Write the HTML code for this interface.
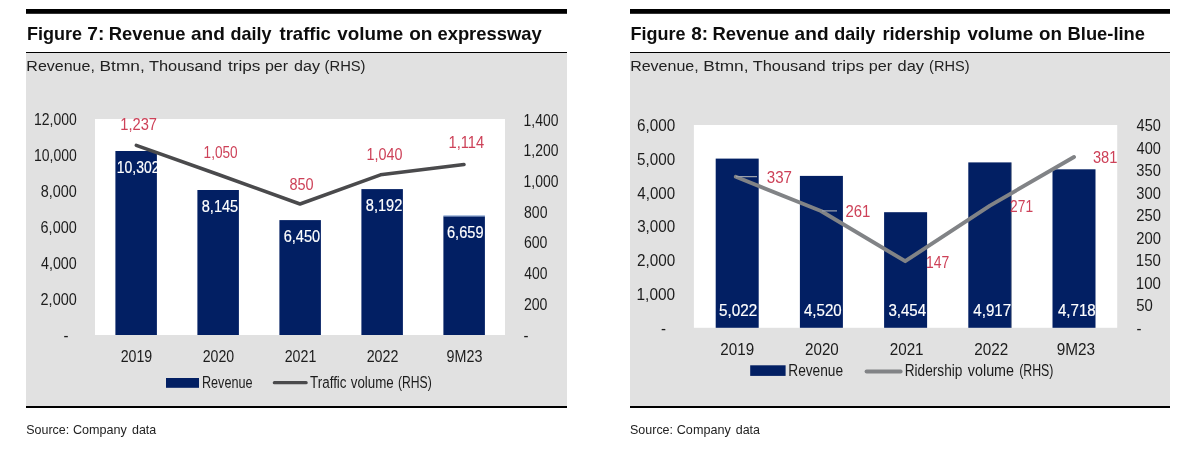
<!DOCTYPE html>
<html lang="en">
<head>
<meta charset="utf-8">
<title>Figure 7 and Figure 8</title>
<style>
html,body{margin:0;padding:0;background:#fff;}
body{width:1200px;height:452px;overflow:hidden;}
svg{display:block;font-family:"Liberation Sans", sans-serif;}
</style>
</head>
<body>
<svg width="1200" height="452" viewBox="0 0 1200 452">
<rect x="26" y="9" width="541" height="4.8" fill="#000"/>
<text y="39.9" font-size="18.4" fill="#0d0d0d" font-weight="bold"><tspan x="26.98" textLength="55.01" lengthAdjust="spacingAndGlyphs">Figure</tspan> <tspan x="87.38" textLength="17.07" lengthAdjust="spacingAndGlyphs">7:</tspan> <tspan x="108.76" textLength="76.66" lengthAdjust="spacingAndGlyphs">Revenue</tspan> <tspan x="190.93" textLength="33.92" lengthAdjust="spacingAndGlyphs">and</tspan> <tspan x="230.58" textLength="41.04" lengthAdjust="spacingAndGlyphs">daily</tspan> <tspan x="279.47" textLength="51.46" lengthAdjust="spacingAndGlyphs">traffic</tspan> <tspan x="337.21" textLength="65.93" lengthAdjust="spacingAndGlyphs">volume</tspan> <tspan x="409.24" textLength="23.23" lengthAdjust="spacingAndGlyphs">on</tspan> <tspan x="437.47" textLength="104.15" lengthAdjust="spacingAndGlyphs">expressway</tspan></text>
<rect x="26" y="52" width="541" height="354" fill="#e1e1e1"/>
<rect x="26" y="52" width="541" height="1" fill="#000"/>
<text y="71" font-size="15.5" fill="#222"><tspan x="26.38" textLength="68.47" lengthAdjust="spacingAndGlyphs">Revenue,</tspan> <tspan x="99.57" textLength="45.17" lengthAdjust="spacingAndGlyphs">Btmn,</tspan> <tspan x="148.93" textLength="72.9" lengthAdjust="spacingAndGlyphs">Thousand</tspan> <tspan x="227.94" textLength="32.45" lengthAdjust="spacingAndGlyphs">trips</tspan> <tspan x="264.96" textLength="23.08" lengthAdjust="spacingAndGlyphs">per</tspan> <tspan x="294.01" textLength="26.02" lengthAdjust="spacingAndGlyphs">day</tspan> <tspan x="324.58" textLength="40.94" lengthAdjust="spacingAndGlyphs">(RHS)</tspan></text>
<rect x="26" y="406" width="541" height="2" fill="#000"/>
<text y="434" font-size="13.2" fill="#222"><tspan x="26.24" textLength="43.0" lengthAdjust="spacingAndGlyphs">Source:</tspan> <tspan x="72.97" textLength="53.96" lengthAdjust="spacingAndGlyphs">Company</tspan> <tspan x="131.97" textLength="24.25" lengthAdjust="spacingAndGlyphs">data</tspan></text>
<rect x="95" y="119" width="410" height="216" fill="#fff"/>
<rect x="115.4" y="151" width="41.5" height="184" fill="#021f63"/>
<rect x="197.4" y="190" width="41.5" height="145" fill="#021f63"/>
<rect x="279.4" y="220.1" width="41.5" height="114.9" fill="#021f63"/>
<rect x="361.4" y="189.1" width="41.5" height="145.9" fill="#021f63"/>
<rect x="443.4" y="216.3" width="41.5" height="118.7" fill="#021f63"/>
<rect x="443.4" y="215.4" width="41.5" height="1" fill="#7d9ccc"/>
<text x="33.95" y="125" font-size="16.8" fill="#1c1c1c" textLength="42.79" lengthAdjust="spacingAndGlyphs">12,000</text>
<text x="33.95" y="161" font-size="16.8" fill="#1c1c1c" textLength="42.79" lengthAdjust="spacingAndGlyphs">10,000</text>
<text x="40.69" y="197" font-size="16.8" fill="#1c1c1c" textLength="36.05" lengthAdjust="spacingAndGlyphs">8,000</text>
<text x="40.58" y="233" font-size="16.8" fill="#1c1c1c" textLength="36.17" lengthAdjust="spacingAndGlyphs">6,000</text>
<text x="40.98" y="269" font-size="16.8" fill="#1c1c1c" textLength="35.76" lengthAdjust="spacingAndGlyphs">4,000</text>
<text x="40.58" y="305" font-size="16.8" fill="#1c1c1c" textLength="36.17" lengthAdjust="spacingAndGlyphs">2,000</text>
<text x="65.9" y="341" font-size="16.8" fill="#1c1c1c" text-anchor="middle" textLength="5" lengthAdjust="spacingAndGlyphs">-</text>
<text x="523.56" y="125.7" font-size="16.8" fill="#1c1c1c" textLength="34.87" lengthAdjust="spacingAndGlyphs">1,400</text>
<text x="523.56" y="155.86" font-size="16.8" fill="#1c1c1c" textLength="34.87" lengthAdjust="spacingAndGlyphs">1,200</text>
<text x="523.56" y="186.71" font-size="16.8" fill="#1c1c1c" textLength="34.87" lengthAdjust="spacingAndGlyphs">1,000</text>
<text x="524.0" y="217.57" font-size="16.8" fill="#1c1c1c" textLength="23.44" lengthAdjust="spacingAndGlyphs">800</text>
<text x="523.89" y="248.43" font-size="16.8" fill="#1c1c1c" textLength="23.55" lengthAdjust="spacingAndGlyphs">600</text>
<text x="524.29" y="279.29" font-size="16.8" fill="#1c1c1c" textLength="23.15" lengthAdjust="spacingAndGlyphs">400</text>
<text x="523.89" y="310.14" font-size="16.8" fill="#1c1c1c" textLength="23.55" lengthAdjust="spacingAndGlyphs">200</text>
<text x="523.6" y="341" font-size="16.8" fill="#1c1c1c" textLength="5" lengthAdjust="spacingAndGlyphs">-</text>
<text x="120.69" y="362" font-size="16.8" fill="#1c1c1c" textLength="31.58" lengthAdjust="spacingAndGlyphs">2019</text>
<text x="202.69" y="362" font-size="16.8" fill="#1c1c1c" textLength="31.47" lengthAdjust="spacingAndGlyphs">2020</text>
<text x="284.69" y="362" font-size="16.8" fill="#1c1c1c" textLength="31.62" lengthAdjust="spacingAndGlyphs">2021</text>
<text x="366.69" y="362" font-size="16.8" fill="#1c1c1c" textLength="31.65" lengthAdjust="spacingAndGlyphs">2022</text>
<text x="446.57" y="362" font-size="16.8" fill="#1c1c1c" textLength="35.81" lengthAdjust="spacingAndGlyphs">9M23</text>
<polyline points="136.3,145.3 218.3,174.5 300,204 380.5,174.8 464,164.5" fill="none" stroke="#4a4a4c" stroke-width="3.5" stroke-linejoin="round" stroke-linecap="round"/>
<text x="116.75" y="172.9" font-size="16.8" fill="#fff" textLength="42.76" lengthAdjust="spacingAndGlyphs" stroke="#fff" stroke-width="0.2">10,302</text>
<text x="201.78" y="211.9" font-size="16.8" fill="#fff" textLength="36.4" lengthAdjust="spacingAndGlyphs" stroke="#fff" stroke-width="0.2">8,145</text>
<text x="283.67" y="242.0" font-size="16.8" fill="#fff" textLength="36.48" lengthAdjust="spacingAndGlyphs" stroke="#fff" stroke-width="0.2">6,450</text>
<text x="365.78" y="211.0" font-size="16.8" fill="#fff" textLength="36.55" lengthAdjust="spacingAndGlyphs" stroke="#fff" stroke-width="0.2">8,192</text>
<text x="446.97" y="238.2" font-size="16.8" fill="#fff" textLength="36.59" lengthAdjust="spacingAndGlyphs" stroke="#fff" stroke-width="0.2">6,659</text>
<text x="120.3" y="130.2" font-size="16.8" fill="#cd4158" textLength="36.74" lengthAdjust="spacingAndGlyphs">1,237</text>
<text x="203.58" y="158" font-size="16.8" fill="#cd4158" textLength="34.03" lengthAdjust="spacingAndGlyphs">1,050</text>
<text x="289.48" y="189.7" font-size="16.8" fill="#cd4158" textLength="24.17" lengthAdjust="spacingAndGlyphs">850</text>
<text x="366.62" y="160.2" font-size="16.8" fill="#cd4158" textLength="35.92" lengthAdjust="spacingAndGlyphs">1,040</text>
<text x="448.5" y="148.2" font-size="16.8" fill="#cd4158" textLength="35.72" lengthAdjust="spacingAndGlyphs">1,114</text>
<rect x="166" y="378" width="33" height="9.8" fill="#021f63"/>
<text x="201.96" y="387.8" font-size="16.8" fill="#1c1c1c" textLength="50.59" lengthAdjust="spacingAndGlyphs">Revenue</text>
<path d="M274.4 382.7H306.1" stroke="#4a4a4c" stroke-width="3.3" stroke-linecap="round" fill="none"/>
<text y="387.8" font-size="16.8" fill="#1c1c1c"><tspan x="310.0" textLength="36.58" lengthAdjust="spacingAndGlyphs">Traffic</tspan> <tspan x="350.73" textLength="43.05" lengthAdjust="spacingAndGlyphs">volume</tspan> <tspan x="398.04" textLength="33.72" lengthAdjust="spacingAndGlyphs">(RHS)</tspan></text>
<rect x="630" y="9" width="540" height="4.8" fill="#000"/>
<text y="39.9" font-size="18.4" fill="#0d0d0d" font-weight="bold"><tspan x="630.58" textLength="55.01" lengthAdjust="spacingAndGlyphs">Figure</tspan> <tspan x="691.18" textLength="16.85" lengthAdjust="spacingAndGlyphs">8:</tspan> <tspan x="712.46" textLength="76.66" lengthAdjust="spacingAndGlyphs">Revenue</tspan> <tspan x="794.63" textLength="33.92" lengthAdjust="spacingAndGlyphs">and</tspan> <tspan x="834.28" textLength="41.04" lengthAdjust="spacingAndGlyphs">daily</tspan> <tspan x="882.41" textLength="78.14" lengthAdjust="spacingAndGlyphs">ridership</tspan> <tspan x="967.41" textLength="65.72" lengthAdjust="spacingAndGlyphs">volume</tspan> <tspan x="1039.05" textLength="22.91" lengthAdjust="spacingAndGlyphs">on</tspan> <tspan x="1067.56" textLength="77.44" lengthAdjust="spacingAndGlyphs">Blue-line</tspan></text>
<rect x="630" y="52" width="540" height="354" fill="#e1e1e1"/>
<rect x="630" y="52" width="540" height="1" fill="#000"/>
<text y="71" font-size="15.5" fill="#222"><tspan x="630.18" textLength="68.47" lengthAdjust="spacingAndGlyphs">Revenue,</tspan> <tspan x="703.37" textLength="45.17" lengthAdjust="spacingAndGlyphs">Btmn,</tspan> <tspan x="752.73" textLength="72.9" lengthAdjust="spacingAndGlyphs">Thousand</tspan> <tspan x="831.74" textLength="32.45" lengthAdjust="spacingAndGlyphs">trips</tspan> <tspan x="868.65" textLength="23.4" lengthAdjust="spacingAndGlyphs">per</tspan> <tspan x="897.6" textLength="26.44" lengthAdjust="spacingAndGlyphs">day</tspan> <tspan x="929.09" textLength="40.42" lengthAdjust="spacingAndGlyphs">(RHS)</tspan></text>
<rect x="630" y="406" width="540" height="2" fill="#000"/>
<text y="434" font-size="13.2" fill="#222"><tspan x="630.04" textLength="43.0" lengthAdjust="spacingAndGlyphs">Source:</tspan> <tspan x="676.77" textLength="53.96" lengthAdjust="spacingAndGlyphs">Company</tspan> <tspan x="735.77" textLength="24.25" lengthAdjust="spacingAndGlyphs">data</tspan></text>
<rect x="693.9" y="125" width="423.3" height="202.8" fill="#fff"/>
<rect x="715.7" y="158.6" width="43" height="169.2" fill="#021f63"/>
<rect x="799.9" y="175.9" width="43" height="151.9" fill="#021f63"/>
<rect x="884.1" y="212.2" width="43" height="115.6" fill="#021f63"/>
<rect x="968.3" y="162.4" width="43" height="165.4" fill="#021f63"/>
<rect x="1052.5" y="169.3" width="43" height="158.5" fill="#021f63"/>
<rect x="1010.9" y="162.6" width="0.9" height="165.2" fill="#77829a"/>
<text x="636.94" y="131.0" font-size="16.8" fill="#1c1c1c" textLength="38.24" lengthAdjust="spacingAndGlyphs">6,000</text>
<text x="637.09" y="164.8" font-size="16.8" fill="#1c1c1c" textLength="38.08" lengthAdjust="spacingAndGlyphs">5,000</text>
<text x="637.36" y="198.6" font-size="16.8" fill="#1c1c1c" textLength="37.81" lengthAdjust="spacingAndGlyphs">4,000</text>
<text x="637.13" y="232.4" font-size="16.8" fill="#1c1c1c" textLength="38.04" lengthAdjust="spacingAndGlyphs">3,000</text>
<text x="636.94" y="266.2" font-size="16.8" fill="#1c1c1c" textLength="38.24" lengthAdjust="spacingAndGlyphs">2,000</text>
<text x="636.54" y="300.0" font-size="16.8" fill="#1c1c1c" textLength="38.64" lengthAdjust="spacingAndGlyphs">1,000</text>
<text x="663.5" y="333.8" font-size="16.8" fill="#1c1c1c" text-anchor="middle" textLength="5" lengthAdjust="spacingAndGlyphs">-</text>
<text x="1136.57" y="131.1" font-size="16.8" fill="#1c1c1c" textLength="24.29" lengthAdjust="spacingAndGlyphs">450</text>
<text x="1136.57" y="153.63" font-size="16.8" fill="#1c1c1c" textLength="24.29" lengthAdjust="spacingAndGlyphs">400</text>
<text x="1136.35" y="176.17" font-size="16.8" fill="#1c1c1c" textLength="24.52" lengthAdjust="spacingAndGlyphs">350</text>
<text x="1136.35" y="198.7" font-size="16.8" fill="#1c1c1c" textLength="24.52" lengthAdjust="spacingAndGlyphs">300</text>
<text x="1136.16" y="221.23" font-size="16.8" fill="#1c1c1c" textLength="24.71" lengthAdjust="spacingAndGlyphs">250</text>
<text x="1136.16" y="243.77" font-size="16.8" fill="#1c1c1c" textLength="24.71" lengthAdjust="spacingAndGlyphs">200</text>
<text x="1135.77" y="266.3" font-size="16.8" fill="#1c1c1c" textLength="25.11" lengthAdjust="spacingAndGlyphs">150</text>
<text x="1135.77" y="288.83" font-size="16.8" fill="#1c1c1c" textLength="25.11" lengthAdjust="spacingAndGlyphs">100</text>
<text x="1136.3" y="311.37" font-size="16.8" fill="#1c1c1c" textLength="16.59" lengthAdjust="spacingAndGlyphs">50</text>
<text x="1136.4" y="333.8" font-size="16.8" fill="#1c1c1c" textLength="5" lengthAdjust="spacingAndGlyphs">-</text>
<text x="720.37" y="355.3" font-size="16.8" fill="#1c1c1c" textLength="33.88" lengthAdjust="spacingAndGlyphs">2019</text>
<text x="805.03" y="355.3" font-size="16.8" fill="#1c1c1c" textLength="33.76" lengthAdjust="spacingAndGlyphs">2020</text>
<text x="889.69" y="355.3" font-size="16.8" fill="#1c1c1c" textLength="33.92" lengthAdjust="spacingAndGlyphs">2021</text>
<text x="974.35" y="355.3" font-size="16.8" fill="#1c1c1c" textLength="33.96" lengthAdjust="spacingAndGlyphs">2022</text>
<text x="1056.74" y="355.3" font-size="16.8" fill="#1c1c1c" textLength="38.41" lengthAdjust="spacingAndGlyphs">9M23</text>
<polyline points="735.8,176.8 821,211 905.2,261.2 990,205.6 1074,157" fill="none" stroke="#818386" stroke-width="3.9" stroke-linejoin="round" stroke-linecap="round"/>
<path d="M736 176.6H757M822 210.8H837" stroke="#9aa0ab" stroke-width="1.2" fill="none"/>
<text x="719.02" y="315.7" font-size="16.8" fill="#fff" textLength="38.17" lengthAdjust="spacingAndGlyphs" stroke="#fff" stroke-width="0.2">5,022</text>
<text x="803.95" y="315.7" font-size="16.8" fill="#fff" textLength="37.7" lengthAdjust="spacingAndGlyphs" stroke="#fff" stroke-width="0.2">4,520</text>
<text x="888.38" y="315.7" font-size="16.8" fill="#fff" textLength="37.78" lengthAdjust="spacingAndGlyphs" stroke="#fff" stroke-width="0.2">3,454</text>
<text x="973.27" y="315.7" font-size="16.8" fill="#fff" textLength="37.9" lengthAdjust="spacingAndGlyphs" stroke="#fff" stroke-width="0.2">4,917</text>
<text x="1057.93" y="315.7" font-size="16.8" fill="#fff" textLength="37.78" lengthAdjust="spacingAndGlyphs" stroke="#fff" stroke-width="0.2">4,718</text>
<text x="766.73" y="182.9" font-size="16.8" fill="#cd4158" textLength="25.24" lengthAdjust="spacingAndGlyphs">337</text>
<text x="845.45" y="216.9" font-size="16.8" fill="#cd4158" textLength="24.97" lengthAdjust="spacingAndGlyphs">261</text>
<text x="925.95" y="267.8" font-size="16.8" fill="#cd4158" textLength="23.26" lengthAdjust="spacingAndGlyphs">147</text>
<text x="1010.11" y="211.6" font-size="16.8" fill="#cd4158" textLength="22.96" lengthAdjust="spacingAndGlyphs">271</text>
<text x="1092.95" y="163" font-size="16.8" fill="#cd4158" textLength="24.46" lengthAdjust="spacingAndGlyphs">381</text>
<rect x="750.2" y="365.3" width="35.4" height="10.6" fill="#021f63"/>
<text x="788.27" y="375.9" font-size="16.8" fill="#1c1c1c" textLength="54.82" lengthAdjust="spacingAndGlyphs">Revenue</text>
<path d="M866.6 371.6H900.6" stroke="#818386" stroke-width="4" stroke-linecap="round" fill="none"/>
<text y="375.8" font-size="16.8" fill="#1c1c1c"><tspan x="904.67" textLength="57.7" lengthAdjust="spacingAndGlyphs">Ridership</tspan> <tspan x="967.83" textLength="46.2" lengthAdjust="spacingAndGlyphs">volume</tspan> <tspan x="1019.13" textLength="34.34" lengthAdjust="spacingAndGlyphs">(RHS)</tspan></text>
</svg>
</body>
</html>
